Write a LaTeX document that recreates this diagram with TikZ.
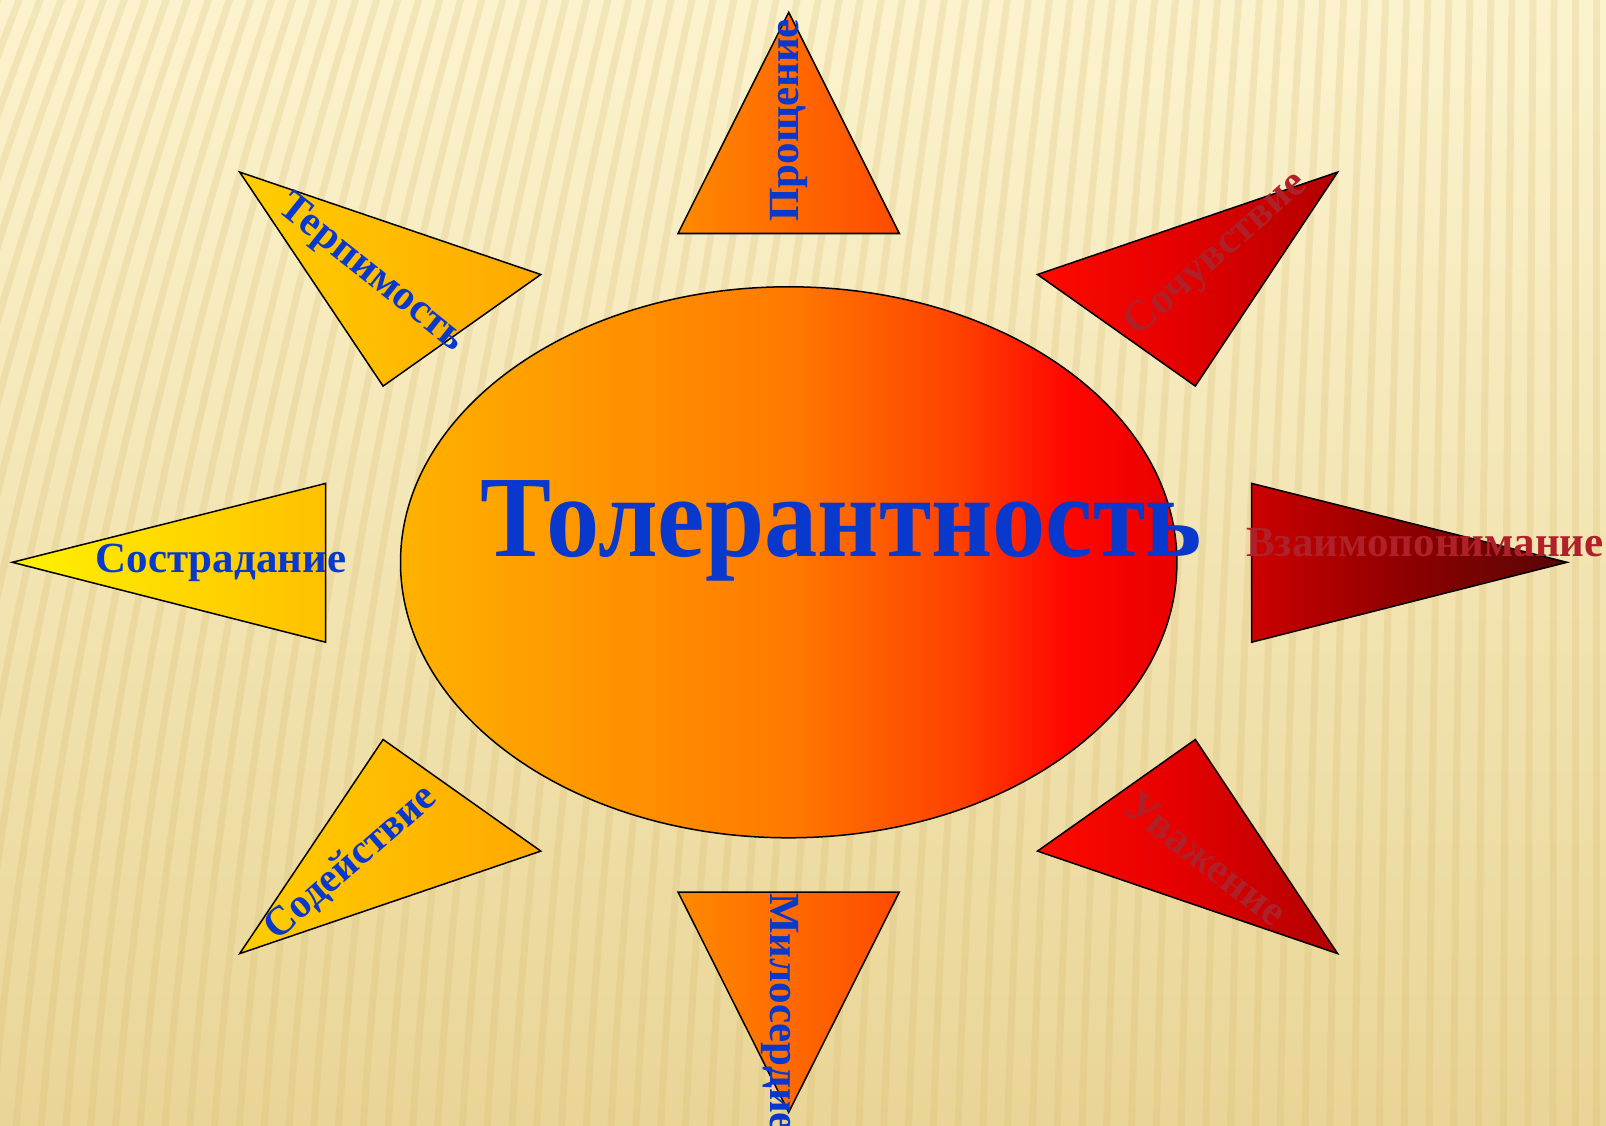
\documentclass[tikz,border=0pt]{standalone}
\usepackage{fontspec}
\setmainfont{Liberation Serif}
\definecolor{bgtop}{RGB}{252,243,206}
\definecolor{bgbot}{RGB}{233,213,150}
\definecolor{stripec}{RGB}{214,186,112}
\definecolor{lblue}{RGB}{8,56,204}
\definecolor{lred}{RGB}{176,32,40}
% ellipse
\definecolor{e1}{RGB}{255,178,0}
\definecolor{e2}{RGB}{255,150,0}
\definecolor{e3}{RGB}{255,122,0}
\definecolor{e4}{RGB}{255,64,0}
\definecolor{e5}{RGB}{255,6,0}
\definecolor{e6}{RGB}{232,0,0}
% triangles
\definecolor{l1}{RGB}{255,242,0}
\definecolor{l2}{RGB}{255,192,0}
\definecolor{u1}{RGB}{255,206,0}
\definecolor{u2}{RGB}{255,168,0}
\definecolor{t1}{RGB}{255,138,0}
\definecolor{t2}{RGB}{255,74,0}
\definecolor{r1}{RGB}{255,10,0}
\definecolor{r2}{RGB}{226,0,0}
\definecolor{r3}{RGB}{176,0,0}
\definecolor{d1}{RGB}{204,0,0}
\definecolor{d2}{RGB}{140,0,0}
\definecolor{d3}{RGB}{88,6,6}
\pgfdeclarehorizontalshading{ellshade}{100bp}{color(0bp)=(e1); color(25bp)=(e1); color(37bp)=(e2); color(50bp)=(e3); color(61bp)=(e4); color(68bp)=(e5); color(75bp)=(e6); color(100bp)=(e6)}
\pgfdeclarehorizontalshading{leftshade}{100bp}{color(0bp)=(l1); color(25bp)=(l1); color(75bp)=(l2); color(100bp)=(l2)}
\pgfdeclarehorizontalshading{ulshade}{100bp}{color(0bp)=(u1); color(25bp)=(u1); color(75bp)=(u2); color(100bp)=(u2)}
\pgfdeclarehorizontalshading{topshade}{100bp}{color(0bp)=(t1); color(25bp)=(t1); color(75bp)=(t2); color(100bp)=(t2)}
\pgfdeclarehorizontalshading{urshade}{100bp}{color(0bp)=(r1); color(25bp)=(r1); color(50bp)=(r2); color(75bp)=(r3); color(100bp)=(r3)}
\pgfdeclarehorizontalshading{rightshade}{100bp}{color(0bp)=(d1); color(25bp)=(d1); color(50bp)=(d2); color(75bp)=(d3); color(100bp)=(d3)}
\tikzset{
  ray/.style={draw=black, line width=1.5pt, line join=miter},
  stripe/.style={draw=stripec, line width=7pt, opacity=0.24},
  lbl/.style={text=lblue, font=\fontsize{43}{48}\selectfont\bfseries, inner sep=0pt},
  rlbl/.style={text=lred, font=\fontsize{43}{48}\selectfont\bfseries, inner sep=0pt},
}
\begin{document}
\begin{tikzpicture}[x=1pt,y=-1pt]
\useasboundingbox (0,0) rectangle (1606,1126);
% background
\shade[top color=bgtop, bottom color=bgbot] (0,0) rectangle (1606,1126);
\begin{scope}
\clip (0,0) rectangle (1606,1126);
\foreach \i in {-2,...,80}{
  \pgfmathsetmacro\xt{\i*21}
  \pgfmathsetmacro\s{0.40*max(0,(1560-\xt))/1560}
  \draw[stripe] (\xt,-5) .. controls ({\xt-\s*375},375) and ({\xt-\s*610},751) .. ({\xt-\s*704},1131);
}
\end{scope}
% central ellipse
\shadedraw[shading=ellshade, draw=black, line width=1.5pt] (788.7,562.3) ellipse [x radius=388.2, y radius=275.5];
% triangles
\shadedraw[shading=topshade, ray] (678,233.5) -- (788.7,12.3) -- (899.3,233.5) -- cycle;
\shadedraw[shading=topshade, ray] (678,892) -- (899.3,892) -- (788.7,1112.3) -- cycle;
\shadedraw[shading=leftshade, ray] (12.3,562.3) -- (325.7,483.4) -- (325.7,642.2) -- cycle;
\shadedraw[shading=rightshade, ray] (1251.6,483.4) -- (1567,562.3) -- (1251.6,642.2) -- cycle;
\shadedraw[shading=ulshade, ray] (239.7,172.1) -- (540.8,274.5) -- (383.1,386.1) -- cycle;
\shadedraw[shading=ulshade, ray] (383.1,739.5) -- (540.8,851.1) -- (239.7,953.6) -- cycle;
\shadedraw[shading=urshade, ray] (1337.6,172.1) -- (1037.5,274.5) -- (1195.3,386.1) -- cycle;
\shadedraw[shading=urshade, ray] (1195.3,739.5) -- (1037.5,851.1) -- (1337.6,953.6) -- cycle;
% labels
\node[text=lblue, font=\fontsize{116}{120}\selectfont\bfseries, inner sep=0pt, anchor=base] (tol) at (841,556) {\scalebox{0.918}[1]{Толерантность}};
\node[lbl, anchor=base] (sostr) at (221,572) {Сострадание};
\node[rlbl, anchor=base] (vzaim) at (1425,556) {Взаимопонимание};
\node[lbl, rotate=90, anchor=base west] (proshch) at (798,222) {Прощение};
\node[lbl, rotate=-90, anchor=base west] (milos) at (770,893) {Милосердие};
\node[lbl, rotate=-38.5, font=\fontsize{42}{48}\selectfont\bfseries] (terp) at (371,274) {Терпимость};
\node[lbl, rotate=41, font=\fontsize{41}{48}\selectfont\bfseries] (sodeis) at (351,863) {Содействие};
\node[rlbl, rotate=41.5] (sochuv) at (1217,255) {Сочувствие};
\node[rlbl, rotate=-37.5] (uvazh) at (1206,859) {Уважение};
\end{tikzpicture}
\end{document}
